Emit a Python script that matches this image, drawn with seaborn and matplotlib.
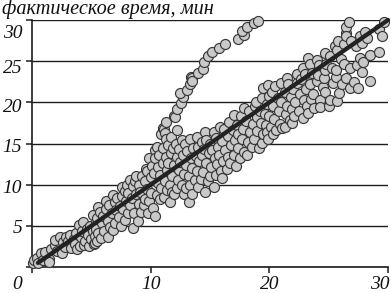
import matplotlib
matplotlib.use("Agg")
import matplotlib.pyplot as plt
from matplotlib.transforms import ScaledTranslation
import seaborn as sns
import pandas as pd

xa = [0.1,0.2,0.4,0.5,0.8,0.9,1.1,1.4,1.43,1.6,
      1.9,1.94,2.1,2.36,2.5,2.6,2.8,2.9,3.0,3.2,
      3.3,3.5,3.6,3.7,3.8,4.0,4.05,4.1,4.2,4.3,
      4.4,4.5,4.6,4.7,4.8,4.9,5.0,5.1,5.1,5.2,
      5.3,5.3,5.4,5.4,5.5,5.5,5.6,5.6,5.7,5.8]
ya = [0.45,0.9,1.05,0.5,1.65,0.9,1.8,1.0,0.65,2.2,
      2.7,3.3,1.9,3.7,1.65,3.0,2.4,3.7,3.1,3.9,
      2.3,3.4,2.8,4.1,2.2,5.1,2.55,3.6,4.4,5.5,
      2.7,3.2,4.6,3.9,2.6,5.0,3.4,6.3,4.4,2.8,
      2.9,3.8,5.5,4.6,6.0,3.1,7.3,4.1,6.7,3.5]
xb = [5.9,6.0,6.1,6.2,6.2,6.4,6.4,6.5,6.6,6.7,
      6.85,6.85,7.0,7.0,7.1,7.2,7.3,7.4,7.5,7.55,
      7.6,7.7,7.8,7.8,7.9,8.0,8.1,8.1,8.25,8.3,
      8.4,8.5,8.5,8.6,8.7,8.75,8.8,8.9,9.0,9.0,
      9.1,9.2,9.3,9.4,9.5,9.5,9.6,9.65,9.7,9.8,
      9.9,9.9,10,10,10.1,10.2,10.3,10.4,10.4,10.4,
      10.5,10.5,10.6,10.6,10.7,10.8,10.8,10.9,10.9,11]
yb = [5.3,6.2,4.4,8.0,7.0,3.7,5.6,7.5,4.9,6.6,
      8.75,4.5,7.9,5.4,6.9,8.4,6.1,7.4,5.0,9.75,
      8.6,7.0,5.7,9.2,8.0,10.0,6.5,9.0,10.6,7.5,
      8.4,4.7,9.8,6.6,10.4,11.1,8.9,5.6,7.7,10.0,
      9.1,6.7,11.0,7.5,8.3,10.4,11.9,11.6,9.5,6.6,
      13.2,8.0,10.9,9.0,12.3,7.2,11.4,14.2,6.2,13.2,
      14.6,8.7,10.2,12.2,13.6,8.3,11.2,16.1,9.6,12.6]
xc = [11,11,11.1,11.1,11.2,11.2,11.3,11.3,11.3,11.4,
      11.4,11.5,11.5,11.6,11.6,11.7,11.7,11.8,11.8,11.9,
      12,12,12,12.1,12.2,12.2,12.2,12.3,12.4,12.4,
      12.5,12.6,12.6,12.7,12.8,12.8,12.9,13,13,13.1,
      13.2,13.2,13.3,13.35,13.4,13.5,13.5,13.6,13.7,13.8,
      13.9,13.9,14,14,14.1,14.2,14.3,14.3,14.4,14.5,
      14.6,14.6,14.7,14.7,14.8,14.9,15,15,15.1,15.2]
yc = [16.9,14.5,8.5,16.8,16.3,10.5,15.5,13.4,17.6,9.3,
      11.8,14.8,12.6,7.9,10.0,15.8,13.9,9.1,11.1,14.4,
      12.4,8.9,18.3,15.0,16.6,9.55,13.3,10.6,14.3,11.8,
      12.8,10.0,15.4,13.6,8.9,11.3,14.9,12.4,9.6,14.1,
      7.9,11.0,10,15.5,13.2,8.9,12.0,14.5,10.6,13.5,
      15.8,11.7,9.7,14.6,12.9,10.7,15.2,13.6,11.5,14.3,
      16.4,9.15,12.6,15.4,10.5,13.8,11,15.0,12.2,14.2]
xd = [15.3,15.3,15.4,15.5,15.5,15.6,15.7,15.8,15.85,15.9,
      16,16,16.1,16.2,16.3,16.4,16.5,16.5,16.6,16.7,
      16.8,16.9,17,17,17.1,17.2,17.3,17.4,17.4,17.5,
      17.6,17.7,17.8,17.9,17.9,18,18.1,18.2,18.3,18.4,
      18.5,18.6,18.7,18.8,18.9,19,19,19.1,19.2,19.3,
      19.4,19.4,19.5,19.5,19.6,19.7,19.8,19.8,19.9,19.9,
      20,20,20.1,20.2,20.3,20.3,20.4,20.5,20.6,20.7]
yd = [16.4,9.7,13.2,15.7,11.2,12.5,14.6,13.6,17,11.6,
      10.8,15.3,12.9,16.8,14.2,11.9,15.9,13.4,17.6,12.6,
      14.8,16.6,13.6,18.5,15.4,12.3,17.2,16.2,14.4,13.2,
      18.3,15.6,16.8,19.3,14.0,17.7,13.6,15.2,18.9,16.4,
      14.6,17.4,15.6,19.5,20,18.2,16.5,14.4,19.0,17.5,
      15.1,20.5,21.7,16.2,18.6,17.2,16.4,19.8,22.1,15.6,
      20.8,18.3,17.0,21.3,16.2,19.5,18.0,22.0,16.6,20.5]
xe = [20.8,20.9,21,21,21.1,21.3,21.3,21.4,21.5,21.5,
      21.6,21.7,21.8,21.9,21.9,22,22.1,22.2,22.3,22.3,
      22.5,22.6,22.7,22.8,22.8,22.9,23,23.1,23.2,23.3,
      23.3,23.4,23.4,23.5,23.6,23.7,23.8,24,24,24.1,
      24.2,24.3,24.3,24.5,24.6,24.7,24.7,24.7,24.8,25,
      25.1,25.1,25.3,25.4,25.5,25.6,25.6,25.7,25.7,25.8,
      25.85,26,26.1,26.3,26.3,26.45,26.5,26.5,26.5,26.7,
      26.8,26.8,26.9,27.1,27.3,27.4,27.5,27.6,27.6,27.8,
      27.8,27.9,28.1,28.2,28.5,28.5,29.2,29.2,29.5,29.7]
ye = [18.9,17.4,22.3,20.0,16.9,17,21.2,18.6,23,19.6,
      22.2,17.9,20.7,17.5,19.2,21.6,18.4,20.1,23.5,22.4,
      19.0,21.0,22.8,24.2,18.1,20.3,23.4,21.6,19.5,25.4,
      18.7,24.6,22.2,20.4,23.6,21.0,19.3,25.2,22.6,23.3,
      24.5,20.3,19.4,21.9,23.0,26,23.9,21.3,24.7,19.6,
      20.3,25.6,24.2,22.4,26.8,23.1,23.9,26.4,20.2,27.4,
      21.1,25.3,22.2,27.1,24.7,28.4,29.1,23,28,29.7,
      24.2,21.7,27.5,22.5,26.8,24.5,21.7,28,25.4,27.2,
      23.7,24.9,28.5,27.8,22.6,25.8,26.1,28.9,28.1,29.7]
xf = [12.05,12.2,12.55,12.7,12.5,13.05,13.3,13.4,13.5,13.5,
      14,14.4,14.5,14.8,15.2,15.8,16.3,17.35,17.9,17.7,
      18.1,18.7,19.05]
yf = [18.2,19.2,19.9,20.6,21.1,21.5,22.2,23.1,23,22.6,
      23.6,24.1,24.9,25.6,26.1,26.6,27.1,27.7,28.2,28.7,
      29.1,29.6,29.9]

trend_x = [0.5, 30]
trend_y = [0.5, 30]
y_ticks = [0, 5, 10, 15, 20, 25, 30]
x_ticks = [0, 10, 20, 30]
y_label_drop = {0: 0, 5: 1, 10: 2, 15: 2, 20: 3, 25: 5, 30: 12}
x_label_shift = {0: -15, 10: 0, 20: 0, 30: -8}

df = pd.DataFrame({"x": xa + xb + xc + xd + xe + xf,
                   "y": ya + yb + yc + yd + ye + yf})
line_df = pd.DataFrame({"x": trend_x, "y": trend_y})

sns.set_style("white")
W, H = 391, 293
fig = plt.figure(figsize=(W / 100, H / 100), dpi=100)
ax = fig.add_axes([32 / W, (H - 267) / H, 356 / W, 247 / H])
ink = "#1c1c1c"
serif = "Liberation Serif"

ax.set_axisbelow(True)
ax.grid(axis="y", color=ink, lw=1.0)
ax.grid(axis="x", visible=False)
sns.scatterplot(data=df, x="x", y="y", ax=ax, s=52, color="#c9c9c9",
                edgecolor="#383838", linewidth=0.85, clip_on=False, zorder=3)
sns.lineplot(data=line_df, x="x", y="y", ax=ax, color="#222222", lw=3.1,
             clip_on=False, zorder=4, errorbar=None)

ax.set_xlim(0, 30)
ax.set_ylim(0, 30)
ax.set_xlabel("")
ax.set_ylabel("")
sns.despine(ax=ax)
for s in ("left", "bottom"):
    ax.spines[s].set_color(ink)
    ax.spines[s].set_linewidth(1.2)
    ax.spines[s].set_zorder(2)

ax.set_xticks(x_ticks)
ax.set_yticks(y_ticks)
ax.set_xticklabels([str(v) for v in x_ticks], fontfamily=serif, fontstyle="italic",
                   fontsize=14, color="#111111")
ax.set_yticklabels(["" if v == 0 else str(v) for v in y_ticks], fontfamily=serif,
                   fontstyle="italic", fontsize=14, color="#111111")
ax.tick_params(axis="both", length=4, width=1.1, color=ink, left=True, bottom=True)
ax.tick_params(axis="x", pad=2.5)
ax.tick_params(axis="y", pad=3)

for v, lab in zip(y_ticks, ax.get_yticklabels()):
    lab.set_transform(lab.get_transform() + ScaledTranslation(0, -y_label_drop[v] / 100, fig.dpi_scale_trans))
for v, lab in zip(x_ticks, ax.get_xticklabels()):
    lab.set_transform(lab.get_transform() + ScaledTranslation(x_label_shift[v] / 100, 0, fig.dpi_scale_trans))

fig.text(2 / W, 1 - 14 / H, "фактическое время, мин", fontfamily=serif,
         fontstyle="italic", fontsize=14.6, color="#111111", ha="left", va="baseline")

fig.savefig("out.png", dpi=100, facecolor="white")
